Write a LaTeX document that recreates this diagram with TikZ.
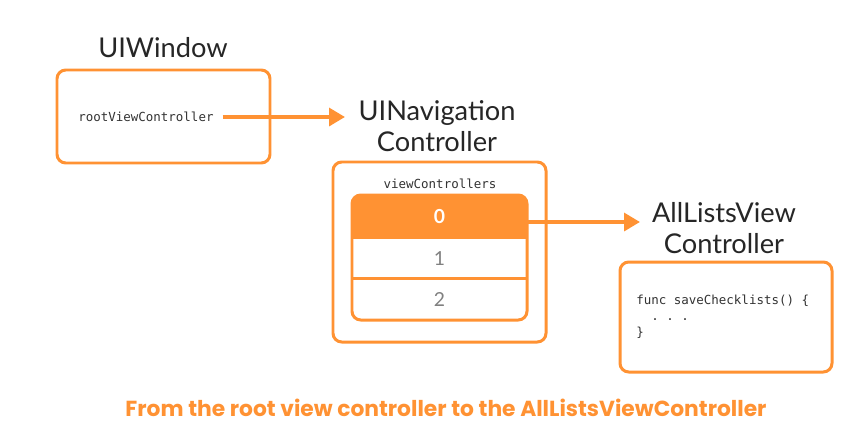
\documentclass[tikz,border=0pt]{standalone}
\usepackage{fontspec}
\setmainfont{Lato}
\setmonofont{DejaVu Sans Mono}
\newfontfamily\capfont{Poppins}
\usetikzlibrary{arrows.meta}
\definecolor{boxorange}{RGB}{255,146,51}
\tikzset{
	box/.style={draw=boxorange, line width=1.7pt, rounded corners=5pt},
	title/.style={font=\fontsize{15.5}{17.5}\selectfont, text=black!85, align=center},
	code/.style={font=\ttfamily\fontsize{7.1}{9}\selectfont, text=black!80, inner sep=0pt},
	cell/.style={minimum width=3.5cm, minimum height=0.82cm, inner sep=0pt, font=\fontsize{11}{13}\selectfont, text=black!50},
	link/.style={draw=boxorange, line width=2.3pt, -{Triangle[length=9pt,width=10pt]}}
}
\begin{document}
\begin{tikzpicture}[x=0.02cm, y=-0.02cm]
		\useasboundingbox[fill=white] (0,0) rectangle (865,430);
		% UIWindow
		\node[title] (wintitle) at (163,48) {UIWindow};
		\draw[box] (57,70) rectangle (270,163);
		\node[code, anchor=west] (rvc) at (78,117) {rootViewController};
		% UINavigationController
		\node[title] (navtitle) at (437,126) {UINavigation\\Controller};
		\draw[box] (333,162) rectangle (546,342);
		\node[code] (vcs) at (440,184) {viewControllers};
		\fill[boxorange, rounded corners=5pt] (352,195) rectangle (527,238);
		\fill[boxorange] (352,225) rectangle (527,238);
		\node[cell, text=white, font=\bfseries\fontsize{11}{13}\selectfont] (row0) at (439.5,216.5) {0};
		\node[cell] (row1) at (439.5,258.5) {1};
		\node[cell] (row2) at (439.5,299.5) {2};
		\draw[box] (352,195) rectangle (527,320);
		\draw[boxorange, line width=1.7pt] (row1.north west) -- (row1.north east);
		\draw[boxorange, line width=1.7pt] (row2.north west) -- (row2.north east);
		% AllListsViewController
		\node[title] (alltitle) at (724,228) {AllListsView\\Controller};
		\draw[box] (620,262) rectangle (832,372);
		\node[code, anchor=west, align=left] (func) at (636,317) {func saveChecklists() \{\\\ \ .\ .\ .\\\}};
		% links
		\coordinate (navin) at (345,117);
		\coordinate (allin) at (640,222);
		\draw[link] ([xshift=5pt]rvc.east) -- (navin);
		\draw[link] (row0.east |- allin) -- (allin);
		\node[font=\capfont\bfseries\fontsize{12.4}{14}\selectfont, text=boxorange] (caption) at (446,408) {From the root view controller to the AllListsViewController};
	\end{tikzpicture}
\end{document}
